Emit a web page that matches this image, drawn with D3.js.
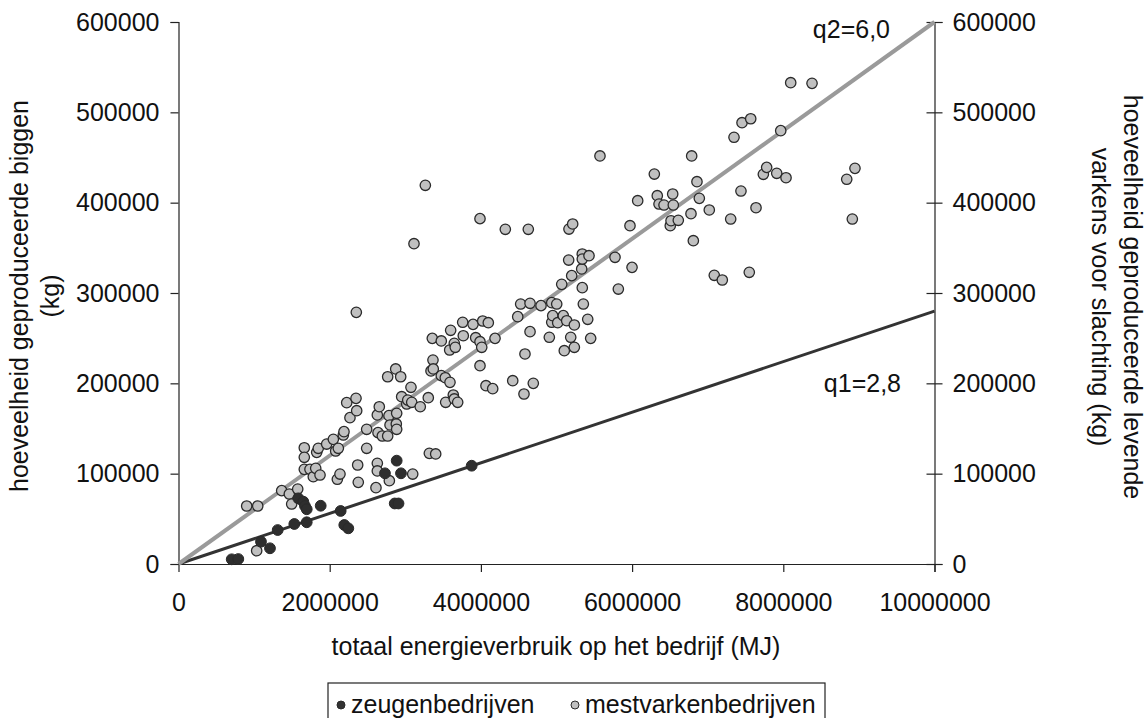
<!DOCTYPE html>
<html>
<head>
<meta charset="utf-8">
<script src="https://cdn.jsdelivr.net/npm/d3@7"></script>
<style>
  html, body { margin: 0; padding: 0; background: #fff; }
  svg text { font-family: "Liberation Sans", Arial, sans-serif; fill: #111; }
</style>
</head>
<body>
<svg id="chart" width="1148" height="718"></svg>
<script>
// Energy use (MJ) against production (kg), per farm type
const zeugenbedrijven = [
  [704000, 5200], [791000, 5500], [1091000, 24700], [1210000, 17400], [1312000, 37600],
  [1532000, 44300], [1585000, 72700], [1651000, 69000], [1673000, 64200], [1696000, 60600],
  [1696000, 46200], [1881000, 64500], [2145000, 58700], [2193000, 43200], [2246000, 39500],
  [2731000, 100400], [2886000, 114400], [2943000, 100400], [2860000, 67000], [2910000, 67000],
  [3878000, 108800]
];

const mestvarkenbedrijven = [
  [902000, 64200], [1034000, 14700], [1048000, 64200], [1365000, 81200], [1466000, 77500],
  [1497000, 66400], [1577000, 83000], [1664000, 128700], [1664000, 118100], [1664000, 104800],
  [1739000, 104800], [1783000, 96600], [1815000, 105900], [1828000, 123600], [1849000, 128100],
  [1872000, 98500], [1960000, 132800], [2048000, 138000], [2079000, 125100], [2101000, 93800],
  [2114000, 128100], [2136000, 99600], [2180000, 142800], [2189000, 146500], [2225000, 178600],
  [2268000, 162000], [2348000, 183400], [2357000, 169700], [2370000, 109600], [2378000, 90400],
  [2489000, 149100], [2489000, 128100], [2352000, 278600], [2612000, 84500], [2630000, 111500],
  [2630000, 103000], [2630000, 165000], [2639000, 145400], [2656000, 174100], [2696000, 141700],
  [2767000, 141700], [2767000, 207300], [2784000, 164200], [2789000, 92200], [2798000, 153900],
  [2873000, 215900], [2881000, 155000], [2886000, 166800], [2886000, 149100], [2939000, 207300],
  [2952000, 185200], [3019000, 177100], [3032000, 181500], [3075000, 195600], [3085000, 179000],
  [3098000, 99600], [3115000, 354600], [3198000, 174100], [3265000, 419200], [3304000, 184100],
  [3318000, 122500], [3340000, 213700], [3357000, 249800], [3366000, 225800], [3370000, 215900],
  [3402000, 121800], [3476000, 246900], [3476000, 208500], [3529000, 206200], [3534000, 179000],
  [3587000, 236900], [3591000, 201100], [3600000, 258700], [3635000, 187100], [3648000, 244300],
  [3648000, 182700], [3661000, 239900], [3693000, 179000], [3759000, 267600], [3767000, 252700],
  [3896000, 265300], [3931000, 250500], [3988000, 382300], [3988000, 246100], [3988000, 219500],
  [4011000, 239900], [4024000, 269000], [4067000, 197400], [4098000, 267100], [4156000, 194100],
  [4187000, 249800], [4323000, 370500], [4421000, 202900], [4487000, 273800], [4526000, 287800],
  [4570000, 188200], [4583000, 232500], [4627000, 370500], [4650000, 288600], [4650000, 257200],
  [4693000, 200000], [4795000, 286000], [4905000, 251000], [4937000, 289300], [4937000, 267600],
  [4950000, 274900], [5003000, 287800], [5016000, 267100], [5069000, 309600], [5090000, 274900],
  [5103000, 236100], [5135000, 269300], [5161000, 336500], [5165000, 370800], [5188000, 251000],
  [5201000, 319200], [5214000, 376400], [5236000, 264600], [5236000, 239900], [5333000, 326600],
  [5341000, 343200], [5341000, 337600], [5341000, 305900], [5355000, 287800], [5413000, 270900],
  [5430000, 341300], [5452000, 249800], [5575000, 451700], [5774000, 339500], [5818000, 304400],
  [5972000, 374500], [5999000, 328400], [6074000, 402200], [6294000, 431700], [6333000, 407700],
  [6356000, 398500], [6422000, 397400], [6505000, 374500], [6515000, 380000], [6537000, 409600],
  [6545000, 397400], [6611000, 380500], [6779000, 387800], [6788000, 451700], [6810000, 357900],
  [6858000, 423200], [6889000, 404800], [7021000, 391900], [7087000, 319600], [7193000, 314400],
  [7304000, 381900], [7348000, 472400], [7440000, 412900], [7454000, 488500], [7550000, 322900],
  [7569000, 492900], [7639000, 394400], [7736000, 431400], [7780000, 439100], [7913000, 432500],
  [7966000, 479700], [8036000, 427600], [8098000, 532800], [8380000, 532100], [8839000, 425900],
  [8913000, 381900], [8948000, 438000]
];

// reference lines: kg per 100 MJ
const qLines = [
  { name: "q1", value: 2.8, label: "q1=2,8", color: "#333333", width: 3 },
  { name: "q2", value: 6.0, label: "q2=6,0", color: "#9a9a9a", width: 4 }
];

const xTicks = [0, 2000000, 4000000, 6000000, 8000000, 10000000];
const yTicks = [0, 100000, 200000, 300000, 400000, 500000, 600000];

const xTitle = "totaal energieverbruik op het bedrijf (MJ)";
const yTitleLeft = ["hoeveelheid geproduceerde biggen", "(kg)"];
const yTitleRight = ["hoeveelheid geproduceerde levende", "varkens voor slachting (kg)"];
const legendItems = [
  { label: "zeugenbedrijven", fill: "#333333" },
  { label: "mestvarkenbedrijven", fill: "#c0c0c0" }
];

const svg = d3.select("#chart");
const FONT = 25;

const x = d3.scaleLinear().domain([0, 10000000]).range([178.5, 934.5]);
const y = d3.scaleLinear().domain([0, 600000]).range([564, 22]);

// left axis
const gL = svg.append("g")
  .attr("transform", `translate(${x(0)},0)`)
  .call(d3.axisLeft(y).tickValues(yTicks).tickFormat(d3.format("d")).tickSize(8).tickPadding(11));
// right axis
const gR = svg.append("g")
  .attr("transform", `translate(${x(10000000)},0)`)
  .call(d3.axisRight(y).tickValues(yTicks).tickFormat(d3.format("d")).tickSize(8).tickPadding(10));
gR.selectAll(".tick line").attr("x1", -8).attr("x2", 8);
// bottom axis
const gB = svg.append("g")
  .attr("transform", `translate(0,${y(0)})`)
  .call(d3.axisBottom(x).tickValues(xTicks).tickFormat(d3.format("d")).tickSize(8).tickPadding(21));

[gL, gR, gB].forEach(g => {
  g.selectAll("path.domain").attr("stroke", "#222").attr("stroke-width", 1.2);
  g.selectAll(".tick line").attr("stroke", "#222").attr("stroke-width", 1.2);
  g.selectAll(".tick text")
    .attr("font-size", FONT)
    .attr("font-family", "'Liberation Sans', Arial, sans-serif")
    .attr("fill", "#111");
});
gB.selectAll(".tick line").filter(d => d === 0).remove();

// reference lines through the origin
svg.append("g").selectAll("line")
  .data(qLines)
  .join("line")
  .attr("x1", x(0)).attr("y1", y(0))
  .attr("x2", x(10000000)).attr("y2", d => y(10000000 * d.value / 100))
  .attr("stroke", d => d.color)
  .attr("stroke-width", d => d.width);

// scatter points
const dots = svg.append("g");
dots.selectAll("circle.mv")
  .data(mestvarkenbedrijven)
  .join("circle")
  .attr("class", "mv")
  .attr("cx", d => x(d[0])).attr("cy", d => y(d[1]))
  .attr("r", 5.2)
  .attr("fill", "#c0c0c0").attr("stroke", "#2a2a2a").attr("stroke-width", 1.3);
dots.selectAll("circle.zg")
  .data(zeugenbedrijven)
  .join("circle")
  .attr("class", "zg")
  .attr("cx", d => x(d[0])).attr("cy", d => y(d[1]))
  .attr("r", 5.4)
  .attr("fill", "#2e2e2e").attr("stroke", "#2a2a2a").attr("stroke-width", 1);

// line labels
svg.append("text").attr("x", 901).attr("y", 392).attr("text-anchor", "end")
  .attr("font-size", FONT).text(qLines[0].label);
svg.append("text").attr("x", 890).attr("y", 38).attr("text-anchor", "end")
  .attr("font-size", FONT).text(qLines[1].label);

// axis titles
svg.append("text").attr("x", 556).attr("y", 655).attr("text-anchor", "middle")
  .attr("font-size", FONT).text(xTitle);

const tl = svg.append("text").attr("font-size", FONT).attr("text-anchor", "middle")
  .attr("transform", "translate(28,296) rotate(-90)");
yTitleLeft.forEach((t, i) => tl.append("tspan").attr("x", 0).attr("y", i * 31).text(t));

const tr = svg.append("text").attr("font-size", FONT).attr("text-anchor", "middle")
  .attr("transform", "translate(1124,297) rotate(90)");
yTitleRight.forEach((t, i) => tr.append("tspan").attr("x", 0).attr("y", i * 32).text(t));

// legend
const lg = svg.append("g");
lg.append("rect").attr("x", 328).attr("y", 683).attr("width", 497).attr("height", 40)
  .attr("fill", "#fff").attr("stroke", "#222").attr("stroke-width", 1.2);
const lx = [341, 575];
legendItems.forEach((it, i) => {
  lg.append("circle").attr("cx", lx[i]).attr("cy", 705).attr("r", 4)
    .attr("fill", it.fill).attr("stroke", "#2a2a2a").attr("stroke-width", 1);
  lg.append("text").attr("x", lx[i] + 10).attr("y", 713).attr("font-size", FONT).text(it.label);
});
</script>
</body>
</html>
